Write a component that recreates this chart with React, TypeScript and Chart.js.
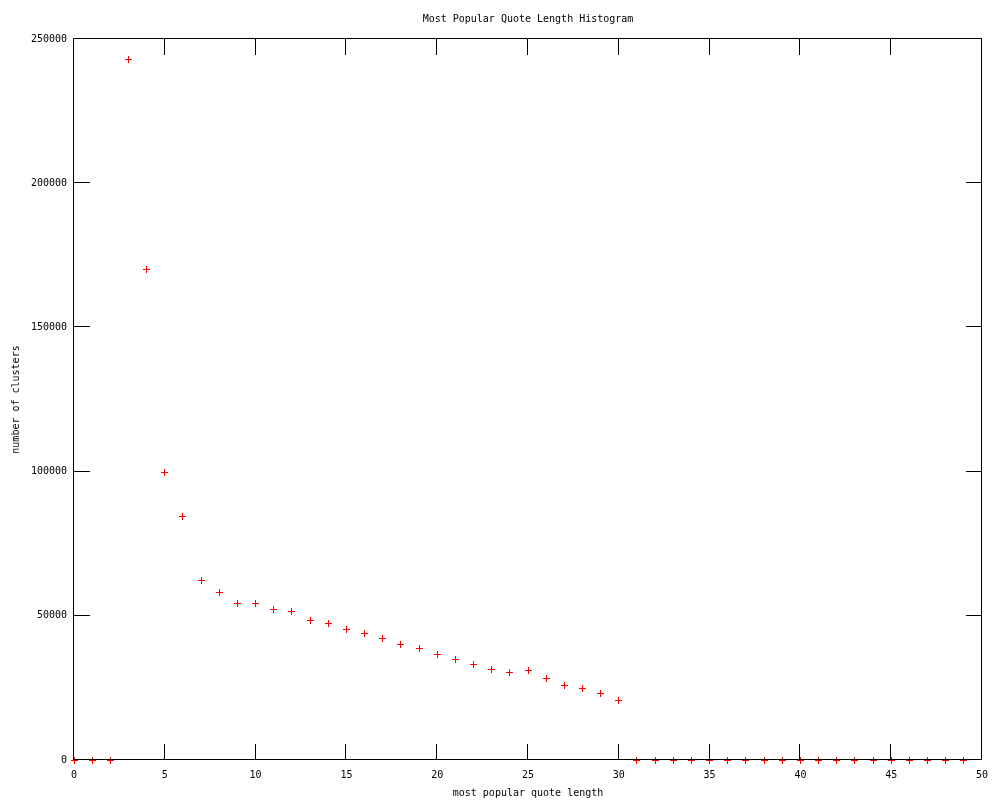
import React, { useEffect, useRef } from "react";
import { Chart, registerables } from "chart.js";

Chart.register(...registerables);

const chartTitle = "Most Popular Quote Length Histogram";
const xAxisTitle = "most popular quote length";
const yAxisTitle = "number of clusters";

const quoteLengths = [
  0, 1, 2, 3, 4, 5, 6, 7, 8, 9, 10, 11, 12, 13, 14, 15, 16, 17, 18, 19, 20, 21, 22, 23, 24,
  25, 26, 27, 28, 29, 30, 31, 32, 33, 34, 35, 36, 37, 38, 39, 40, 41, 42, 43, 44, 45, 46, 47,
  48, 49,
];
const clusterCounts = [
  0, 0, 0, 243000, 170100, 99800, 84500, 62300, 58200, 54400, 54400, 52300, 51600, 48500,
  47400, 45400, 43700, 42200, 40200, 38700, 36700, 34900, 33200, 31400, 30400, 30900, 28300,
  25900, 24900, 23100, 20800, 0, 0, 0, 0, 0, 0, 0, 0, 0, 0, 0, 0, 0, 0, 0, 0, 0, 0, 0,
];
const xTickValues = [0, 5, 10, 15, 20, 25, 30, 35, 40, 45, 50];
const yTickValues = [0, 50000, 100000, 150000, 200000, 250000];

const FONT = "'DejaVu Sans Mono', monospace";

function makeCrossImage(color: string) {
  const c = document.createElement("canvas");
  c.width = 7;
  c.height = 7;
  const g = c.getContext("2d")!;
  g.fillStyle = color;
  g.fillRect(0, 3, 7, 1);
  g.fillRect(3, 0, 1, 7);
  return c;
}

const framePlugin = {
  id: "gnuplotFrame",
  beforeDatasetsDraw(chart: any) {
    chart.ctx.imageSmoothingEnabled = false;
  },
  afterDatasetsDraw(chart: any) {
    const { ctx, chartArea, scales } = chart;
    const { left, right, top, bottom } = chartArea;
    const tl = 16;
    ctx.save();
    ctx.strokeStyle = "#000";
    ctx.lineWidth = 1;
    ctx.beginPath();
    ctx.rect(Math.round(left) - 0.5, Math.round(top) - 0.5, Math.round(right - left), Math.round(bottom - top));
    for (const v of xTickValues) {
      const px = Math.round(scales.x.getPixelForValue(v)) - 0.5;
      ctx.moveTo(px, bottom);
      ctx.lineTo(px, bottom - tl);
      ctx.moveTo(px, top);
      ctx.lineTo(px, top + tl);
    }
    for (const v of yTickValues) {
      const py = Math.round(scales.y.getPixelForValue(v)) - 0.5;
      ctx.moveTo(left, py);
      ctx.lineTo(left + tl, py);
      ctx.moveTo(right, py);
      ctx.lineTo(right - tl, py);
    }
    ctx.stroke();
    ctx.restore();
  },
  afterDraw(chart: any) {
    const { ctx, chartArea } = chart;
    ctx.save();
    ctx.fillStyle = "#000";
    ctx.font = `10px ${FONT}`;
    ctx.textAlign = "center";
    ctx.textBaseline = "middle";
    ctx.fillText(chartTitle, (chartArea.left + chartArea.right) / 2, 19);
    ctx.restore();
  },
};

export default function App() {
  const canvasRef = useRef<HTMLCanvasElement | null>(null);

  useEffect(() => {
    const canvas = canvasRef.current;
    if (!canvas) return;
    const points = quoteLengths.map((x, i) => ({ x, y: clusterCounts[i] }));
    const cross = makeCrossImage("#ff0000");
    const chart = new Chart(canvas, {
      type: "scatter",
      data: {
        datasets: [
          {
            label: "clusters",
            data: points,
            pointStyle: cross as any,
            pointRadius: 3.5,
            pointHoverRadius: 3.5,
            borderColor: "#ff0000",
            backgroundColor: "#ff0000",
            borderWidth: 1,
            showLine: false,
            clip: false,
          },
        ],
      },
      options: {
        responsive: false,
        animation: false,
        devicePixelRatio: 1,
        color: "#000",
        layout: { padding: { top: 39, right: 18, left: 0, bottom: 0 } },
        plugins: {
          legend: { display: false },
          tooltip: { enabled: false },
          title: { display: false },
        },
        scales: {
          x: {
            type: "linear",
            min: 0,
            max: 50,
            afterFit(scale: any) {
              scale.height = 40;
            },
            afterBuildTicks(scale: any) {
              scale.ticks = xTickValues.map((value) => ({ value }));
            },
            grid: { display: false, drawTicks: false },
            border: { display: false },
            ticks: {
              autoSkip: false,
              maxRotation: 0,
              padding: 9,
              color: "#000",
              font: { family: FONT, size: 10 },
            },
            title: {
              display: true,
              text: xAxisTitle,
              color: "#000",
              font: { family: FONT, size: 10 },
              padding: { top: 0, bottom: 1 },
            },
          },
          y: {
            type: "linear",
            min: 0,
            max: 250000,
            afterFit(scale: any) {
              scale.width = 74;
            },
            afterBuildTicks(scale: any) {
              scale.ticks = yTickValues.map((value) => ({ value }));
            },
            grid: { display: false, drawTicks: false },
            border: { display: false },
            ticks: {
              padding: 7,
              color: "#000",
              font: { family: FONT, size: 10 },
              callback: (v: any) => String(v),
            },
            title: {
              display: true,
              text: yAxisTitle,
              color: "#000",
              font: { family: FONT, size: 10 },
              padding: { top: 10, bottom: 0 },
            },
          },
        },
      },
      plugins: [framePlugin],
    });
    return () => chart.destroy();
  }, []);

  return (
    <div style={{ position: "absolute", left: 0, top: 0, width: 1000, height: 800, background: "#fff" }}>
      <canvas ref={canvasRef} width={1000} height={800} />
    </div>
  );
}
